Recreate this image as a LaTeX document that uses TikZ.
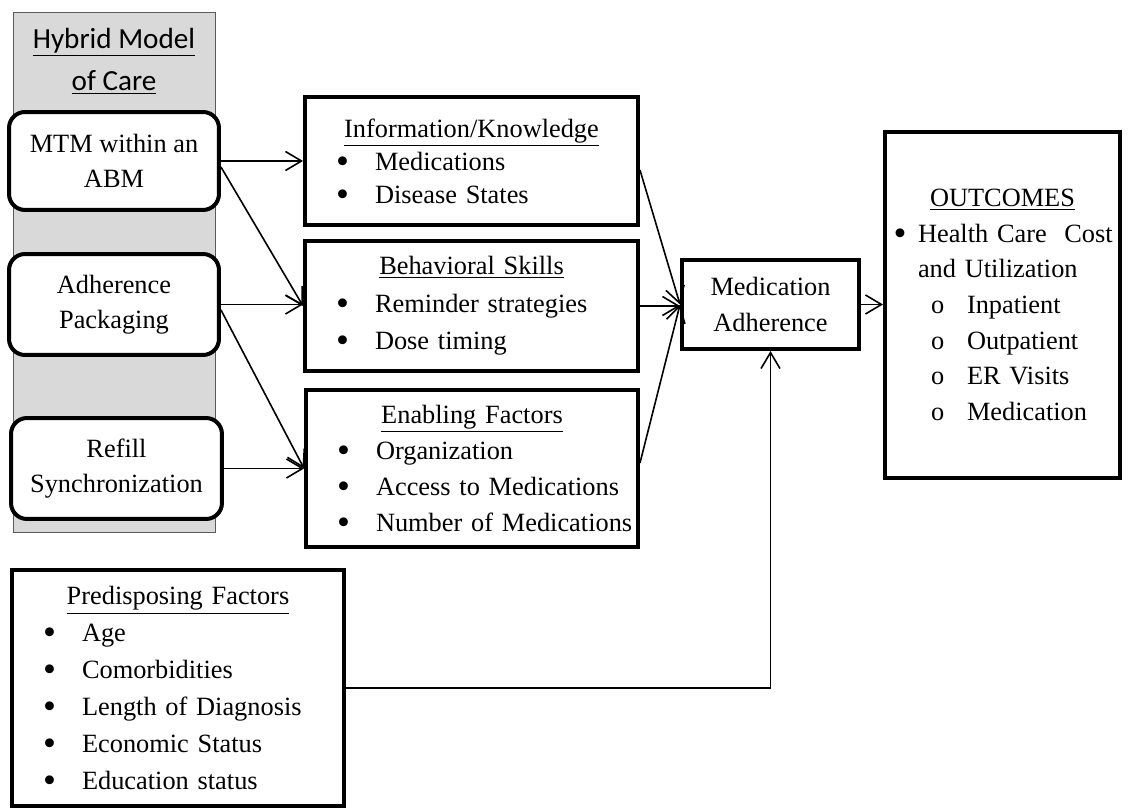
\documentclass[tikz,border=0pt]{standalone}
\usepackage{fontspec}
\setmainfont{Liberation Serif}
\newfontfamily\calibrifont{Carlito}
\usetikzlibrary{arrows.meta}
\definecolor{columngray}{RGB}{217,217,217}
\definecolor{columnedge}{RGB}{90,90,90}
\newcommand{\bigbullet}{\smash{\raisebox{-0.12em}{\scalebox{1.4}{\textbullet}}}}
\newcommand{\itm}[1]{\hspace*{0.62cm}\makebox[0.78cm][l]{\bigbullet}#1}
\newcommand{\subitm}[1]{\hspace*{0.92cm}\makebox[0.72cm][l]{o}#1}
\newcommand{\boxtitle}[1]{\makebox[\hsize]{\underline{#1}}}

\begin{document}
\begin{tikzpicture}[x=0.02cm, y=-0.02cm,
  modelbox/.style={draw, line width=0.08cm, rounded corners=0.32cm, fill=white,
    align=center, inner sep=0pt, minimum width=4.2cm, minimum height=2.02cm,
    font=\fontsize{15}{19.6}\selectfont},
  factorbox/.style={draw, line width=0.08cm, fill=white, inner sep=0pt, align=left,
    font=\fontsize{15}{21}\selectfont},
  conn/.style={line width=0.032cm, -{Straight Barb[length=0.32cm, width=0.38cm, line width=0.032cm]}}]

  \useasboundingbox (0,0) rectangle (1128,810);

  % Hybrid model column
  \node[draw=columnedge, line width=0.02cm, fill=columngray, minimum width=4.06cm,
    minimum height=10.42cm, inner sep=0pt] (hybrid) at (114.5,272.5) {};
  \node[align=center, font=\calibrifont\fontsize{16.6}{23.9}\selectfont] (hybridtitle) at (114,61)
    {\underline{Hybrid Model}\\\underline{of Care}};

  \node[modelbox, minimum height=1.96cm] (mtm) at (114,161) {MTM within an\\ABM};
  \node[modelbox] (adh) at (114,304.5) {Adherence\\Packaging};
  \node[modelbox, minimum width=4.22cm] (refill) at (116.5,468.5) {Refill\\Synchronization};

  % Middle factors
  \node[factorbox, text width=6.66cm, minimum height=2.56cm, font=\fontsize{15}{18.8}\selectfont]
    (info) at (471.5,161)
    {\boxtitle{Information/Knowledge}\\\itm{Medications}\\\itm{Disease States}};
  \node[factorbox, text width=6.66cm, minimum height=2.6cm, font=\fontsize{15}{21.3}\selectfont]
    (behav) at (471.5,306)
    {\boxtitle{Behavioral Skills}\\\itm{Reminder strategies}\\\itm{Dose timing}};
  \node[factorbox, text width=6.64cm, minimum height=3.14cm, font=\fontsize{15}{20.5}\selectfont]
    (enab) at (472,468.5)
    {\boxtitle{Enabling Factors}\\\itm{Organization}\\\itm{Access to Medications}\\\itm{Number of Medications}};

  \node[factorbox, align=center, minimum width=3.54cm, minimum height=1.78cm,
    font=\fontsize{15}{20.5}\selectfont] (medadh) at (770.5,304.5) {Medication\\Adherence};

  % Outcomes
  \node[factorbox, text width=4.7cm, minimum height=6.92cm, font=\fontsize{15}{20.3}\selectfont]
    (outc) at (1002.5,305)
    {\boxtitle{OUTCOMES}\\
     \hspace*{0.17cm}\makebox[0.49cm][l]{\bigbullet}Health Care~ Cost\\
     \hspace*{0.66cm}and Utilization\\
     \subitm{Inpatient}\\\subitm{Outpatient}\\\subitm{ER Visits}\\\subitm{Medication}};

  % Predisposing factors
  \node[factorbox, text width=6.64cm, minimum height=4.72cm] (pred) at (178,688)
    {\boxtitle{Predisposing Factors}\\\itm{Age}\\\itm{Comorbidities}\\\itm{Length of Diagnosis}\\
     \itm{Economic Status}\\\itm{Education status}};

  % Connectors
  \draw[conn] (mtm.east) -- (mtm.east -| info.west);
  \draw[conn] ([yshift=-0.12cm]mtm.east) -- (behav.west);
  \draw[conn] (adh.east) -- (adh.east -| behav.west);
  \draw[conn] ([yshift=-0.11cm]adh.east) -- (enab.west);
  \draw[conn] (refill.east) -- (refill.east -| enab.west);
  \draw[conn] ([yshift=-0.18cm]info.east) -- (medadh.west);
  \draw[conn] (behav.east) -- (behav.east -| medadh.west);
  \draw[conn] ([yshift=0.11cm]enab.east) -- (medadh.west);
  \draw[conn] (medadh.east) -- (medadh.east -| outc.west);
  \draw[conn] (pred.east) -| (medadh.south);

\end{tikzpicture}
\end{document}
